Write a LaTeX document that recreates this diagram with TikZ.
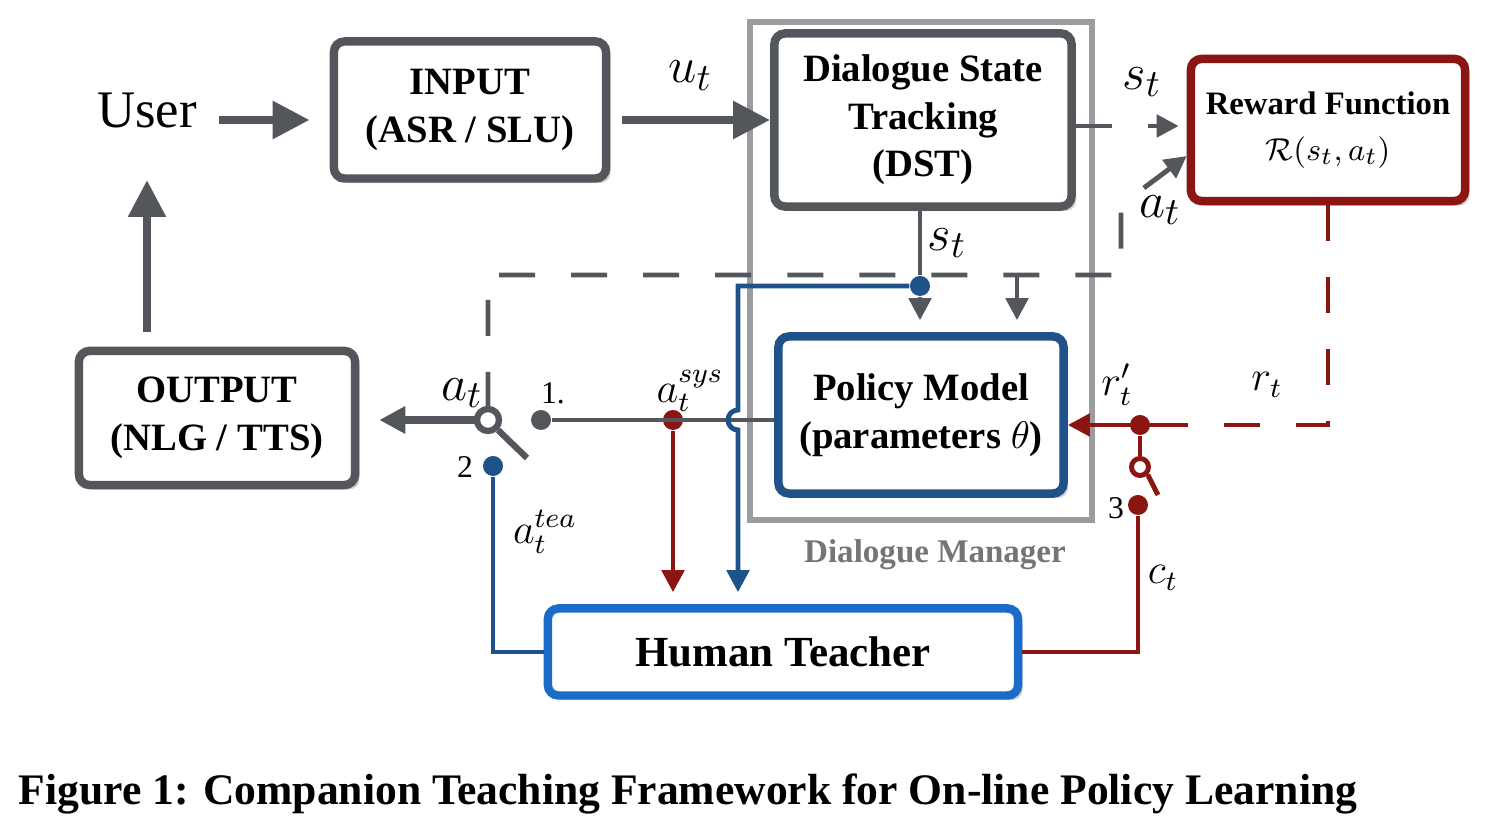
\documentclass[tikz,border=0pt]{standalone}
\usepackage{fontspec}
\setmainfont{Liberation Serif}
\usetikzlibrary{arrows.meta,positioning,shadows}

\definecolor{slate}{HTML}{53575C}
\definecolor{darkred}{HTML}{8A1511}
\definecolor{navy}{HTML}{1F5289}
\definecolor{teachblue}{HTML}{1A6CC8}
\definecolor{dmgray}{HTML}{9A9C9F}

\begin{document}
\begin{tikzpicture}
[x=0.01cm,y=-0.01cm,>={Triangle[length=0.22cm,width=0.22cm]},
  main node/.style={draw,fill=white,line width=2.4pt,rounded corners=3pt,align=center,
    font=\bfseries\fontsize{11}{13.5}\selectfont,
    drop shadow={shadow xshift=1.3pt,shadow yshift=-1.3pt,opacity=0.35}},
  grey node/.style={main node,draw=slate},
  red node/.style={main node,draw=darkred},
  blue node/.style={main node,draw=navy},
  join dot/.style={circle,fill,inner sep=0pt,minimum size=0.2cm},
  switch node/.style={circle,draw,fill=white,line width=1.8pt,inner sep=0pt,minimum size=0.22cm},
  wire/.style={line width=1.4pt},
  main arrow/.style={line width=2.4pt,-{Triangle[length=0.37cm,width=0.36cm]}},
  long dash/.style={line width=1.4pt,dash pattern=on 0.36cm off 0.36cm},
  big label/.style={font=\fontsize{15}{15}\selectfont},
  small label/.style={font=\fontsize{12}{12}\selectfont},
  num label/.style={font=\fontsize{9}{9}\selectfont}]

  \useasboundingbox (0,0) rectangle (1508,822);

  % dialogue manager frame
  \draw[dmgray,line width=1.9pt] (750,22) rectangle (1092,520);
  \node[dmgray!75!black,font=\bfseries\fontsize{9.4}{11}\selectfont] (dm) at (935,555) {Dialogue Manager};

  % blocks
  \node[font=\fontsize{15}{18}\selectfont] (user) at (147,110) {User};
  \node[grey node,minimum width=2.72cm,minimum height=1.37cm] (input) at (470,110) {INPUT\\(ASR / SLU)};
  \node[grey node,minimum width=2.97cm,minimum height=1.73cm] (dst) at (923,120) {Dialogue State\\Tracking\\(DST)};
  \node[red node,minimum width=2.74cm,minimum height=1.42cm,
        font=\bfseries\fontsize{9.3}{13}\selectfont] (reward) at (1328,130) {Reward Function\\\mdseries$\mathcal{R}(s_t,a_t)$};
  \node[blue node,minimum width=2.85cm,minimum height=1.57cm] (policy) at (921,415) {Policy Model\\(parameters $\theta$)};
  \node[grey node,minimum width=2.76cm,minimum height=1.34cm] (output) at (217,418) {OUTPUT\\(NLG / TTS)};
  \node[main node,draw=teachblue,minimum width=4.7cm,minimum height=0.87cm,
        font=\bfseries\fontsize{12.2}{14}\selectfont] (teacher) at (783,652) {Human Teacher};

  % junctions and switches
  \node[join dot,navy] (bdot) at (920,286) {};
  \node[join dot,slate] (c1) at (541,420) {};
  \node[join dot,darkred] (rdot) at (673,420) {};
  \node[join dot,navy] (c2) at (493,466) {};
  \node[join dot,darkred] (rdot2) at (1140,425) {};
  \node[join dot,darkred] (c3) at (1138,505) {};
  \coordinate (hop) at (738,420);
  \coordinate (dline) at (1121,275);
  \coordinate (tap) at (1017,275);
  \coordinate (rjoin) at (1182,425);
  \coordinate (lever1) at (527,458);
  \coordinate (lever2) at (1158,495);

  % main flow
  \draw[slate,main arrow,shorten <=0.1cm,shorten >=0.2cm] ([yshift=-0.1cm]user.east) -- ([yshift=-0.1cm]user.east -| input.west);
  \draw[slate,main arrow,shorten <=0.12cm] (input.east |- dst) -- node[above=0.14cm,big label,text=black] {$u_t$} (dst);
  \draw[slate,main arrow,shorten <=0.15cm,shorten >=0.4cm] (output.north -| user) -- (user);

  % state to policy
  \draw[slate,wire,->,shorten >=0.12cm] (dst.south -| bdot) -- (bdot) -- (policy.north -| bdot);
  \node[big label] at (947,243) {$s_t$};
  \draw[slate,long dash,->,shorten >=0.08cm] ([yshift=-0.06cm]dst.east) -- ([yshift=-0.06cm]dst.east -| reward.west);
  \node[big label] at (1142,82) {$s_t$};

  % action feedback (dashed)
  \draw[slate,long dash,->] (488,408) -- (488,275) -- (dline) -- (1121,205) -- ([yshift=-0.26cm]reward.west);
  \node[big label] at (1160,210) {$a_t$};
  \draw[slate,wire,->,shorten >=0.12cm] (tap) -- (policy.north -| tap);

  % system action and switch
  \draw[slate,wire] (policy.west |- c1) -- (c1);
  \draw[slate,line width=2.2pt,-{Triangle[length=0.26cm,width=0.26cm]},shorten >=0.2cm] (488,420) -- (output.east |- c1);
  \node[switch node,draw=slate] (sw1) at (488,420) {};
  \draw[slate,line width=1.8pt] (sw1.-45) -- (lever1);
  \node[big label] at (462,393) {$a_t$};
  \node[num label] at (553,393) {1.};
  \node[num label] at (465,467) {2};
  \node[small label] at (690,391) {$a_t^{sys}$};
  \node[small label] at (545,532) {$a_t^{tea}$};

  % teacher links
  \draw[darkred,wire,->,shorten >=0.12cm] (rdot) -- (teacher.north -| rdot);
  \draw[navy,wire,->,shorten >=0.12cm] (bdot) -- (bdot -| hop) -- ([yshift=0.1cm]hop)
    arc[start angle=90,end angle=270,radius=0.1cm] -- (teacher.north -| hop);
  \draw[navy,wire] (c2) |- (teacher.west);

  % reward path
  \draw[darkred,long dash] (reward.south) -- (reward.south |- rdot2) -- (rjoin);
  \draw[darkred,wire,->] (rjoin) -- (policy.east |- rdot2);
  \node[switch node,draw=darkred,minimum size=0.17cm,line width=1.4pt] (sw2) at (1140,467) {};
  \draw[darkred,wire] (rdot2) -- (sw2);
  \draw[darkred,wire] (sw2.-45) -- (lever2);
  \draw[darkred,wire] (c3) |- (teacher.east);
  \node[small label] at (1117,385) {$r'_t$};
  \node[small label] at (1267,385) {$r_t$};
  \node[small label] at (1163,578) {$c_t$};
  \node[num label] at (1116,508) {3};

  % caption
  \node[anchor=base west,inner sep=0pt,font=\bfseries\fontsize{12.4}{15}\selectfont] (caption) at (18,805)
    {Figure 1: Companion Teaching Framework for On-line Policy Learning};
\end{tikzpicture}
\end{document}
